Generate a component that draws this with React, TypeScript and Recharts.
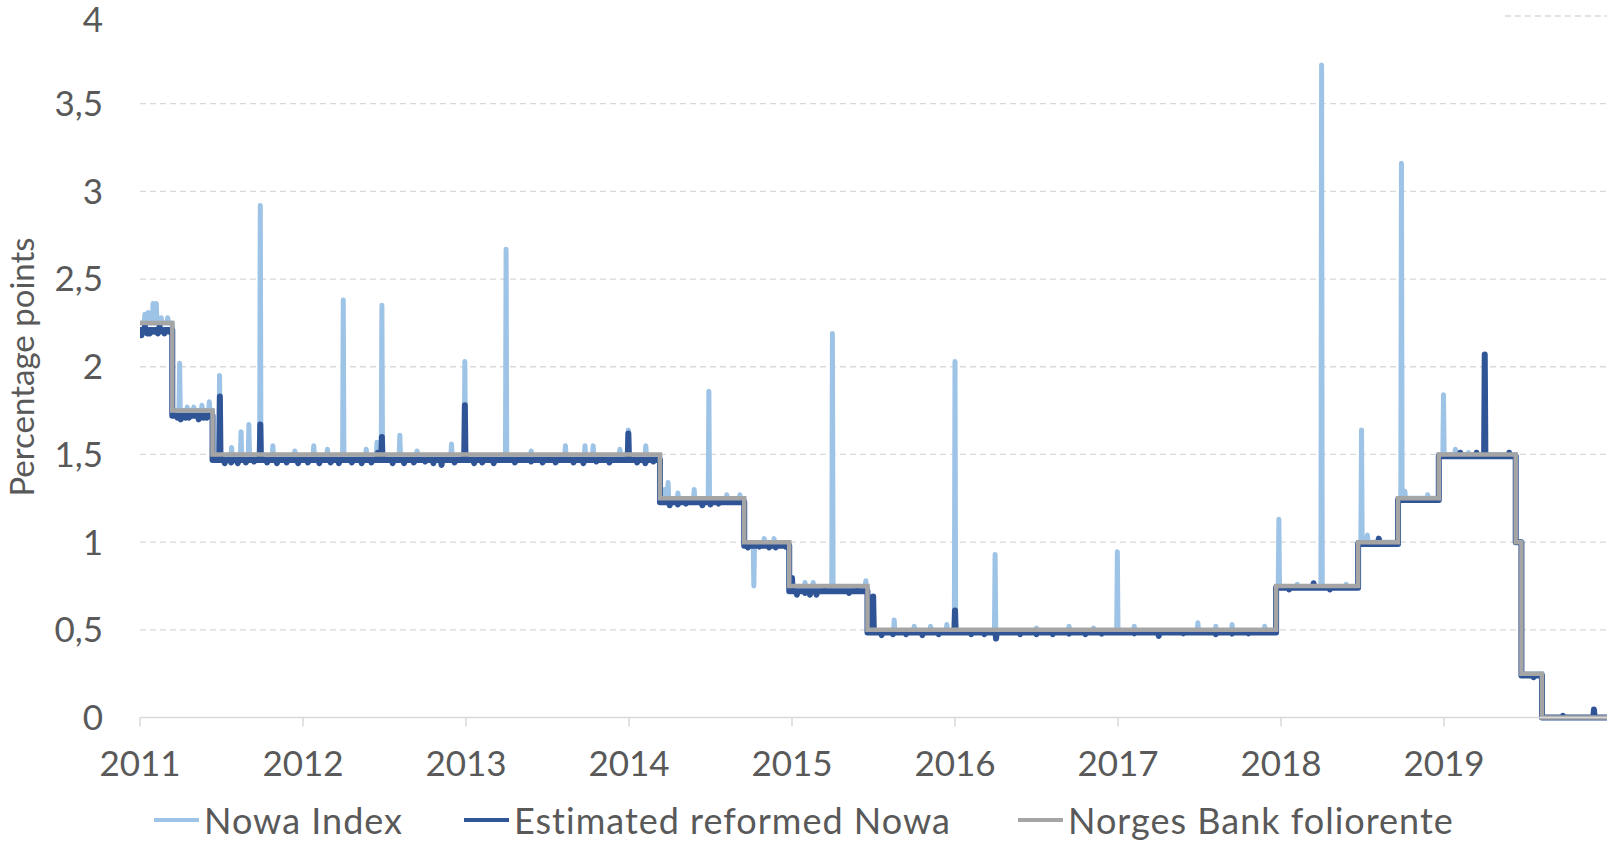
import { CartesianGrid, Legend, Line, LineChart, ReferenceLine, XAxis, YAxis } from 'recharts'

// segments: [start, end, resting level]; marks: [date, value] spikes/dips on top of the level
type Seg = [number, number, number]
type Mark = [number, number]

const yearTicks = [2011, 2012, 2013, 2014, 2015, 2016, 2017, 2018, 2019]
const valueTicks = [0, 0.5, 1, 1.5, 2, 2.5, 3, 3.5, 4]

const folioRate: Mark[] = [
  [2011.0, 2.25], [2011.198, 1.75], [2011.445, 1.5], [2014.19, 1.25], [2014.707, 1.0],
  [2014.983, 0.75], [2015.463, 0.5], [2017.97, 0.75], [2018.473, 1.0], [2018.718, 1.25],
  [2018.968, 1.5], [2019.44, 1.0], [2019.475, 0.25], [2019.601, 0], [2020.0, 0],
]

const nowaLevels: Seg[] = [
  [2011.0, 2011.198, 2.25], [2011.198, 2011.445, 1.75], [2011.445, 2014.19, 1.49],
  [2014.19, 2014.707, 1.24], [2014.707, 2014.983, 0.99], [2014.983, 2015.463, 0.74],
  [2015.463, 2017.97, 0.49], [2017.97, 2018.473, 0.745], [2018.473, 2018.718, 1.0],
  [2018.718, 2018.968, 1.25], [2018.968, 2019.44, 1.5], [2019.44, 2019.475, 1.0],
  [2019.475, 2019.601, 0.25], [2019.601, 2020.0, 0],
]

const nowaMarks: Mark[] = [
  [2011.03, 2.3], [2011.05, 2.31], [2011.08, 2.36], [2011.1, 2.36], [2011.13, 2.28], [2011.17, 2.28],
  [2011.243, 2.02], [2011.29, 1.77], [2011.33, 1.77], [2011.38, 1.78], [2011.425, 1.8],
  [2011.488, 1.95], [2011.562, 1.54], [2011.62, 1.63], [2011.668, 1.67], [2011.738, 2.92],
  [2011.815, 1.55], [2011.95, 1.52], [2012.066, 1.55], [2012.15, 1.53], [2012.247, 2.38],
  [2012.388, 1.53], [2012.454, 1.57], [2012.484, 2.35], [2012.594, 1.61], [2012.7, 1.52],
  [2012.911, 1.56], [2012.993, 2.03], [2013.246, 2.67], [2013.4, 1.52], [2013.61, 1.55],
  [2013.73, 1.55], [2013.78, 1.55], [2013.944, 1.53], [2013.996, 1.64], [2014.103, 1.55],
  [2014.22, 1.3], [2014.24, 1.34], [2014.3, 1.28], [2014.4, 1.3], [2014.49, 1.86], [2014.6, 1.27], [2014.68, 1.27],
  [2014.766, 0.75], [2014.83, 1.02], [2014.89, 1.02],
  [2015.08, 0.77], [2015.13, 0.77], [2015.248, 2.19], [2015.453, 0.78],
  [2015.627, 0.556], [2015.75, 0.52], [2015.85, 0.52], [2015.95, 0.53], [2016.0, 2.03], [2016.246, 0.93],
  [2016.5, 0.51], [2016.7, 0.52], [2016.85, 0.51], [2016.996, 0.945], [2017.1, 0.52], [2017.49, 0.54],
  [2017.6, 0.52], [2017.7, 0.53], [2017.9, 0.52],
  [2017.987, 1.13], [2018.1, 0.76], [2018.249, 3.72], [2018.4, 0.76],
  [2018.494, 1.64], [2018.53, 1.04],
  [2018.739, 3.16], [2018.76, 1.29], [2018.9, 1.27],
  [2018.997, 1.84], [2019.07, 1.53], [2019.15, 1.51],
]

const reformedLevels: Seg[] = [
  [2011.0, 2011.198, 2.21], [2011.198, 2011.445, 1.72], [2011.445, 2014.19, 1.468],
  [2014.19, 2014.707, 1.228], [2014.707, 2014.983, 0.98], [2014.983, 2015.463, 0.72],
  [2015.463, 2017.97, 0.485], [2017.97, 2018.473, 0.74], [2018.473, 2018.718, 0.99],
  [2018.718, 2018.968, 1.24], [2018.968, 2019.44, 1.49], [2019.44, 2019.475, 1.0],
  [2019.475, 2019.601, 0.24], [2019.601, 2020.0, 0],
]

const reformedMarks: Mark[] = [
  [2011.01, 2.18], [2011.02, 2.2], [2011.03, 2.23], [2011.045, 2.19], [2011.06, 2.19], [2011.075, 2.2],
  [2011.09, 2.2], [2011.11, 2.19], [2011.12, 2.23], [2011.14, 2.2], [2011.15, 2.19], [2011.18, 2.2],
  [2011.23, 1.71], [2011.25, 1.7], [2011.28, 1.71], [2011.3, 1.71], [2011.36, 1.7], [2011.39, 1.71], [2011.41, 1.71],
  [2011.49, 1.83], [2011.52, 1.45], [2011.56, 1.455], [2011.6, 1.45], [2011.65, 1.455], [2011.7, 1.46],
  [2011.738, 1.67], [2011.78, 1.455], [2011.84, 1.45], [2011.9, 1.455], [2011.97, 1.45], [2012.03, 1.455],
  [2012.1, 1.45], [2012.17, 1.455], [2012.22, 1.45], [2012.3, 1.455], [2012.36, 1.45], [2012.42, 1.455],
  [2012.46, 1.51], [2012.484, 1.6], [2012.55, 1.45], [2012.62, 1.45], [2012.68, 1.455], [2012.75, 1.46],
  [2012.8, 1.45], [2012.85, 1.44], [2012.93, 1.455], [2012.993, 1.78], [2013.05, 1.45], [2013.1, 1.455],
  [2013.17, 1.45], [2013.3, 1.455], [2013.4, 1.46], [2013.47, 1.455], [2013.55, 1.455], [2013.66, 1.455],
  [2013.72, 1.45], [2013.8, 1.46], [2013.88, 1.455], [2013.996, 1.62], [2014.05, 1.455], [2014.1, 1.45], [2014.15, 1.46],
  [2014.25, 1.21], [2014.3, 1.215], [2014.35, 1.22], [2014.45, 1.21], [2014.5, 1.215], [2014.55, 1.22], [2014.65, 1.23],
  [2014.73, 0.97], [2014.8, 0.975], [2014.86, 0.97], [2014.9, 0.97], [2014.96, 0.975],
  [2015.0, 0.795], [2015.03, 0.7], [2015.08, 0.71], [2015.11, 0.7], [2015.15, 0.7], [2015.2, 0.725],
  [2015.3, 0.72], [2015.35, 0.71], [2015.4, 0.725],
  [2015.498, 0.69], [2015.55, 0.47], [2015.62, 0.475], [2015.7, 0.475], [2015.8, 0.47], [2015.9, 0.475],
  [2016.0, 0.61], [2016.1, 0.475], [2016.18, 0.475], [2016.252, 0.45], [2016.4, 0.475], [2016.5, 0.475],
  [2016.6, 0.475], [2016.7, 0.478], [2016.8, 0.475], [2016.9, 0.478], [2017.1, 0.48], [2017.25, 0.465],
  [2017.4, 0.48], [2017.6, 0.475], [2017.7, 0.478], [2017.8, 0.48],
  [2018.05, 0.73], [2018.2, 0.765], [2018.3, 0.73],
  [2018.6, 1.02],
  [2019.1, 1.51], [2019.2, 1.51], [2019.25, 2.07], [2019.4, 1.51],
  [2019.55, 0.23],
  [2019.73, 0.01], [2019.92, 0.045],
]

const HALF = 0.004

function buildSeries(levels: Seg[], marks: Mark[]) {
  const pts: { x: number; y: number }[] = []
  for (const [a, b, lvl] of levels) {
    pts.push({ x: a, y: lvl })
    marks
      .filter(([x]) => x > a && x < b)
      .sort((p, q) => p[0] - q[0])
      .forEach(([x, v]) => {
        pts.push({ x: x - HALF, y: lvl }, { x, y: v }, { x: x + HALF, y: lvl })
      })
    pts.push({ x: b, y: lvl })
  }
  return pts
}

const nowaData = buildSeries(nowaLevels, nowaMarks)
const reformedData = buildSeries(reformedLevels, reformedMarks)
const folioData = folioRate.map(([x, y]) => ({ x, y }))

const FONT = 'Lato, "Open Sans", sans-serif'
const TEXT = '#595959'

const legendItems = [
  { label: 'Nowa Index', color: '#9DC3E6', left: 154 },
  { label: 'Estimated reformed Nowa', color: '#2F5597', left: 464 },
  { label: 'Norges Bank foliorente', color: '#A5A5A5', left: 1018 },
]

function ChartLegend() {
  return (
    <div style={{ position: 'relative', width: 1607, height: 38, fontFamily: FONT, fontSize: 36, lineHeight: '38px', letterSpacing: 1, color: TEXT }}>
      {legendItems.map((it) => (
        <div key={it.label} style={{ position: 'absolute', left: it.left, top: 0, display: 'flex', alignItems: 'center', height: 38, whiteSpace: 'nowrap' }}>
          <span style={{ display: 'inline-block', width: 45, height: 4, background: it.color, marginRight: 5 }} />
          <span>{it.label}</span>
        </div>
      ))}
    </div>
  )
}

export default function App() {
  return (
    <div style={{ position: 'absolute', left: 0, top: 0, width: 1607, height: 841, background: '#fff' }}>
      <LineChart width={1607} height={841} margin={{ top: 16, right: 0, left: 0, bottom: 0 }}>
        <CartesianGrid vertical={false} horizontalValues={[0.5, 1, 1.5, 2, 2.5, 3, 3.5]} stroke="#D9D9D9" strokeDasharray="6 4" strokeWidth={1.3} />
        <ReferenceLine segment={[{ x: 2019.373, y: 4 }, { x: 2020, y: 4 }]} stroke="#D9D9D9" strokeDasharray="6 4" strokeWidth={1.3} />
        <XAxis
          type="number"
          dataKey="x"
          domain={[2011, 2020]}
          ticks={yearTicks}
          allowDataOverflow
          height={123.5}
          stroke="#D9D9D9"
          strokeWidth={1.5}
          tickSize={9}
          tickMargin={25}
          tick={{ fill: TEXT, fontSize: 35, fontFamily: FONT }}
        />
        <YAxis
          type="number"
          domain={[0, 4]}
          ticks={valueTicks}
          width={140}
          axisLine={false}
          tickLine={false}
          tickSize={0}
          tickMargin={37}
          tickFormatter={(v: number) => String(v).replace('.', ',')}
          tick={{ fill: TEXT, fontSize: 35, fontFamily: FONT }}
          label={() => (
            <text x={21} y={367} transform="rotate(-90 21 367)" textAnchor="middle" dominantBaseline="central" fill={TEXT} fontSize={33} fontFamily={FONT}>
              Percentage points
            </text>
          )}
        />
        <Legend
          layout="horizontal"
          verticalAlign="middle"
          align="center"
          wrapperStyle={{ position: 'absolute', top: 801, left: 0, width: 1607 }}
          content={() => <ChartLegend />}
        />
        <Line data={nowaData} dataKey="y" name="Nowa Index" stroke="#9DC3E6" strokeWidth={5} dot={false} strokeLinecap="round" strokeLinejoin="round" isAnimationActive={false} />
        <Line data={reformedData} dataKey="y" name="Estimated reformed Nowa" stroke="#2F5597" strokeWidth={6} dot={false} strokeLinecap="round" strokeLinejoin="round" isAnimationActive={false} />
        <Line data={folioData} dataKey="y" type="stepAfter" name="Norges Bank foliorente" stroke="#A5A5A5" strokeWidth={4.5} dot={false} isAnimationActive={false} />
      </LineChart>
    </div>
  )
}
